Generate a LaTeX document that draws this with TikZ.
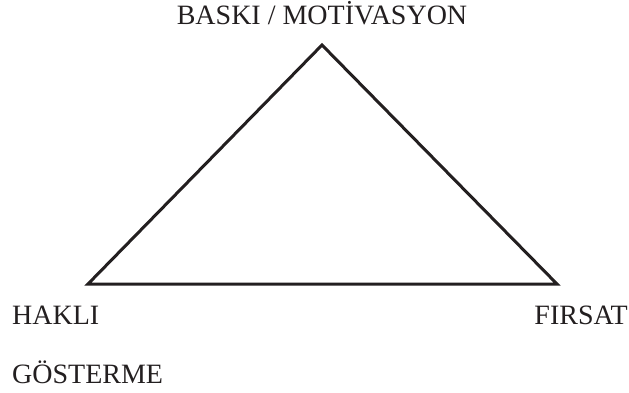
\documentclass[tikz,border=0pt]{standalone}
\usepackage{fontspec}
\setmainfont{Liberation Serif}
\definecolor{ink}{HTML}{231F20}
\begin{document}
\begin{tikzpicture}[x=1pt,y=1pt,
  lbl/.style={inner sep=0pt,text=ink,font=\fontsize{28}{33}\selectfont},
  edge/.style={line width=3pt,line join=miter,draw=ink}]
\useasboundingbox (0,0) rectangle (629,392);
\coordinate (T) at (322,347);
\coordinate (L) at (88,108);
\coordinate (R) at (557,108);
\draw[edge] (T) -- (L) -- (R) -- cycle;
\node[lbl,anchor=base] (top) at (322,367) {BASKI / MOTİVASYON};
\node[lbl,anchor=base west] (hakli) at (12,68) {HAKLI};
\node[lbl,anchor=base west] (gost) at (12,9) {GÖSTERME};
\node[lbl,anchor=base east] (firsat) at (628,68) {FIRSAT};
\end{tikzpicture}
\end{document}
